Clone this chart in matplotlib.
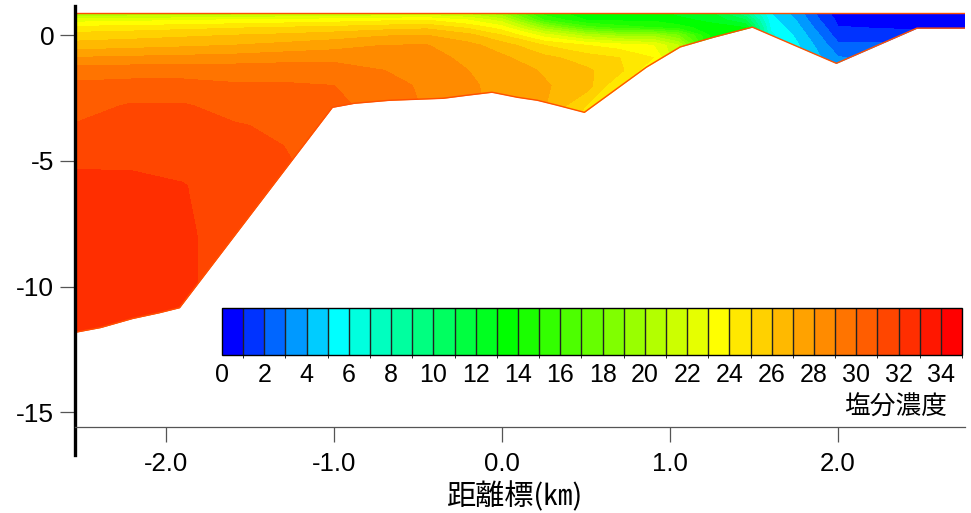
import numpy as np
import matplotlib
matplotlib.use("Agg")
import matplotlib.pyplot as plt
import matplotlib.colors as mcolors
from matplotlib import font_manager as fm
from matplotlib.colors import hsv_to_rgb

plt.rcParams['font.family'] = ['Liberation Sans', 'Noto Sans CJK JP', 'DejaVu Sans']

# ---------------- data ----------------
station_km = [-2.55, -2.2, -1.9, -1.6, -1.3, -1.0, -0.7, -0.45, -0.2, 0.0, 0.25, 0.5,
              0.7, 0.9, 1.05, 1.25, 1.45, 1.6, 1.75, 1.9, 2.0, 2.25, 2.5, 2.76]
depth_m = [0.88, 0.6, 0.3, 0.0, -0.4, -0.9, -1.4, -2.0, -2.8, -3.6, -5.0, -6.0, -8.0, -10.0, -12.0]

# salinity per station, from surface (0.88 m) downwards
salinity_by_station = [
    [19.5, 22.5, 24.3, 25.4, 26.4, 28.05, 29.5, 30.2, 30.6, 31.05, 31.85, 32.3, 32.5, 32.6, 32.6],
    [19.8, 22.7, 24.5, 25.6, 26.6, 28.2, 29.6, 30.3, 31.1, 31.4, 31.8, 32.3, 32.6, 32.6, 32.6],
    [20.0, 22.9, 24.7, 25.8, 26.8, 28.3, 29.6, 30.3, 31.1, 31.4, 31.7, 32.05, 32.2, 32.2, 32.2],
    [20.2, 23.1, 24.9, 26.0, 27.0, 28.4, 29.6, 30.1, 30.6, 31.1, 31.5, 31.5, 31.5, 31.5, 31.5],
    [20.4, 23.3, 25.1, 26.2, 27.3, 28.6, 29.6, 30.1, 30.5, 30.8, 31.15, 31.15, 31.15, 31.15, 31.15],
    [20.6, 23.5, 25.3, 26.5, 27.6, 28.7, 29.5, 30.0, 30.3, 30.3, 30.3, 30.3, 30.3, 30.3, 30.3],
    [20.8, 23.8, 25.6, 26.9, 28.0, 28.7, 29.0, 29.4, 29.5, 29.5, 29.5, 29.5, 29.5, 29.5, 29.5],
    [21.0, 24.0, 25.8, 27.0, 28.05, 28.3, 28.6, 28.8, 28.9, 28.9, 28.9, 28.9, 28.9, 28.9, 28.9],
    [20.5, 23.0, 24.8, 26.3, 27.3, 27.8, 28.0, 28.15, 28.2, 28.2, 28.2, 28.2, 28.2, 28.2, 28.2],
    [19.0, 21.5, 23.5, 25.0, 26.5, 27.2, 27.5, 27.7, 27.7, 27.7, 27.7, 27.7, 27.7, 27.7, 27.7],
    [14.5, 16.0, 19.5, 22.5, 25.0, 26.3, 26.9, 27.1, 27.1, 27.1, 27.1, 27.1, 27.1, 27.1, 27.1],
    [13.5, 14.0, 16.5, 20.5, 24.0, 25.5, 26.2, 26.5, 25.0, 23.5, 23.5, 23.5, 23.5, 23.5, 23.5],
    [13.5, 13.8, 15.5, 19.5, 23.5, 25.0, 25.3, 24.0, 23.0, 23.0, 23.0, 23.0, 23.0, 23.0, 23.0],
    [13.3, 13.8, 15.0, 19.5, 23.0, 24.0, 23.0, 23.0, 23.0, 23.0, 23.0, 23.0, 23.0, 23.0, 23.0],
    [12.8, 13.2, 14.5, 18.0, 21.0, 21.0, 21.0, 21.0, 21.0, 21.0, 21.0, 21.0, 21.0, 21.0, 21.0],
    [12.0, 12.8, 13.3, 13.6, 13.6, 13.6, 13.6, 13.6, 13.6, 13.6, 13.6, 13.6, 13.6, 13.6, 13.6],
    [9.0, 11.0, 13.0, 13.0, 13.0, 13.0, 13.0, 13.0, 13.0, 13.0, 13.0, 13.0, 13.0, 13.0, 13.0],
    [5.0, 5.4, 5.8, 6.2, 6.2, 6.2, 6.2, 6.2, 6.2, 6.2, 6.2, 6.2, 6.2, 6.2, 6.2],
    [3.6, 4.0, 4.4, 4.8, 5.2, 5.2, 5.2, 5.2, 5.2, 5.2, 5.2, 5.2, 5.2, 5.2, 5.2],
    [1.5, 1.9, 2.4, 2.9, 3.5, 4.0, 4.0, 4.0, 4.0, 4.0, 4.0, 4.0, 4.0, 4.0, 4.0],
    [0.5, 0.8, 1.05, 1.5, 2.2, 3.1, 3.5, 3.5, 3.5, 3.5, 3.5, 3.5, 3.5, 3.5, 3.5],
    [0.3, 0.6, 0.95, 1.4, 2.2, 2.6, 2.6, 2.6, 2.6, 2.6, 2.6, 2.6, 2.6, 2.6, 2.6],
    [0.2, 0.5, 0.9, 1.2, 1.4, 1.4, 1.4, 1.4, 1.4, 1.4, 1.4, 1.4, 1.4, 1.4, 1.4],
    [0.2, 0.5, 0.9, 1.1, 1.1, 1.1, 1.1, 1.1, 1.1, 1.1, 1.1, 1.1, 1.1, 1.1, 1.1],
]

# river bed profile
bed_km = [-2.55, -2.39, -2.2, -2.04, -1.92, -1.01, -0.88, -0.67, -0.35, -0.21, -0.06, 0.09,
          0.21, 0.33, 0.49, 0.86, 1.06, 1.26, 1.49, 1.99, 2.47, 2.76]
bed_m = [-11.83, -11.63, -11.27, -11.04, -10.84, -2.87, -2.71, -2.59, -2.51, -2.39, -2.27, -2.47,
         -2.59, -2.79, -3.07, -1.27, -0.47, -0.08, 0.32, -1.12, 0.28, 0.28]
water_surface = 0.88

levels = list(range(0, 36))
cbar_ticks = list(range(0, 35, 2))
x_ticks = [-2.0, -1.0, 0.0, 1.0, 2.0]
y_ticks = [0, -5, -10, -15]

# ---------------- fonts ----------------
def font_path(name):
    try:
        return fm.findfont(fm.FontProperties(family=name), fallback_to_default=False)
    except Exception:
        return None

sans_path = font_path('Liberation Sans') or font_path('Arial') or fm.findfont('DejaVu Sans')
narrow_path = font_path('Liberation Sans Narrow') or sans_path

def fp(path, size):
    return fm.FontProperties(fname=path, size=size)

# ---------------- colours ----------------
hue_idx = [0, 5, 13, 23, 34]
hue_deg = [240, 180, 120, 60, 0]
hues = np.interp(np.arange(35), hue_idx, hue_deg) / 360.0
colors = [hsv_to_rgb((h, 1.0, 1.0)) for h in hues]

# ---------------- figure ----------------
W, H = 971, 513
fig = plt.figure(figsize=(W / 100, H / 100), dpi=100)
ax = fig.add_axes([75 / W, (H - 455) / H, 890 / W, 449 / H])
ax.set_axisbelow(False)

S = np.array(salinity_by_station).T
X, Y = np.meshgrid(station_km, depth_m)
ax.contourf(X, Y, S, levels=levels, colors=colors, zorder=0.5)

ymin, ymax = -16.7, 1.16
ax.fill_between(bed_km, bed_m, ymin, color='white', zorder=1.0, lw=0)
ax.plot(bed_km, bed_m, color='#ff5000', lw=1.0, zorder=1.2)
ax.plot([station_km[0], station_km[-1]], [water_surface, water_surface], color='#ff5000', lw=1.0, zorder=1.2)

ax.set_xlim(-2.542, 2.756)
ax.set_ylim(ymin, ymax)

for s in ['top', 'right']:
    ax.spines[s].set_visible(False)
ax.spines['left'].set_linewidth(2.4)
ax.spines['left'].set_color('black')
ax.spines['bottom'].set_position(('data', -15.6))
ax.spines['bottom'].set_color('#555555')
ax.spines['bottom'].set_linewidth(0.9)
ax.spines['left'].set_zorder(5)
ax.spines['bottom'].set_zorder(5)

ax.set_xticks(x_ticks)
ax.set_xticklabels([f"{v:.1f}" for v in x_ticks], fontproperties=fp(sans_path, 18.5))
ax.set_yticks(y_ticks)
ax.set_yticklabels([str(v) for v in y_ticks], fontproperties=fp(sans_path, 19))
ax.tick_params(axis='both', direction='out', length=11, width=0.9, color='#555555', pad=4)
ax.tick_params(axis='x', pad=7)

ax.set_xlabel('距離標(㎞)', fontsize=21, family=['Noto Sans CJK JP'], va='center')
ax.xaxis.set_label_coords((515 - 75) / 890, (455 - 497) / 449)

# ---------------- colour bar ----------------
cax = fig.add_axes([222 / W, (H - 355) / H, 740 / W, 47 / H])
cmap = mcolors.ListedColormap(colors)
norm = mcolors.BoundaryNorm(levels, cmap.N)
cb = fig.colorbar(plt.cm.ScalarMappable(norm=norm, cmap=cmap), cax=cax,
                  orientation='horizontal', ticks=cbar_ticks, drawedges=True)
cb.outline.set_linewidth(1.0)
cb.dividers.set_linewidth(1.0)
cb.dividers.set_color('#222222')
cax.set_xticks(cbar_ticks)
cax.set_xticklabels([str(v) for v in cbar_ticks], fontproperties=fp(narrow_path, 18))
cax.tick_params(length=0, pad=6)
fig.text(947 / W, 1 - 408 / H, '塩分濃度', ha='right', va='center', fontsize=18.5,
         family=['Noto Sans CJK JP'])

fig.savefig('out.png', dpi=100)
